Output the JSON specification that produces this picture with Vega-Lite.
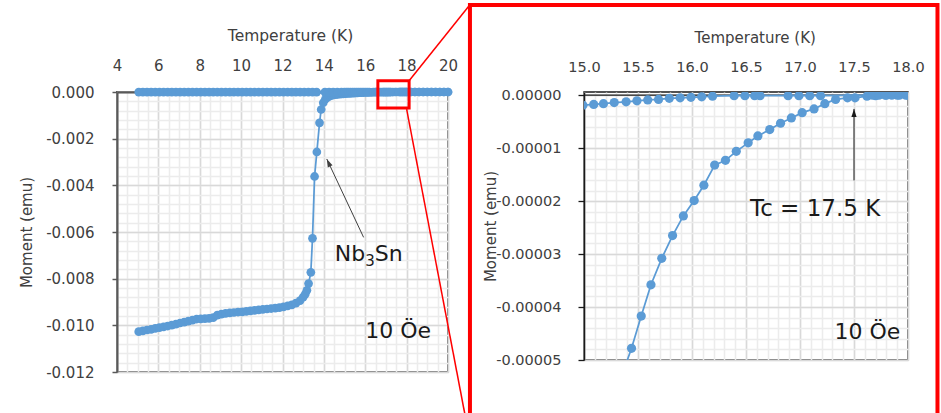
{
  "$schema": "https://vega.github.io/schema/vega-lite/v6.json",
  "padding": {"left": 18, "top": 2, "right": 0, "bottom": 0},
  "background": "white",
  "config": {
    "font": "DejaVu Sans",
    "axis": {"labelFont": "DejaVu Sans", "titleFont": "DejaVu Sans", "titleFontWeight": "normal", "labelFlush": false, "labelOverlap": false, "labelBound": false}
  },
  "datasets": {
    "nb": [
      {"s":"Z","t":5.05,"m":-0.01027},{"s":"Z","t":5.25,"m":-0.01024},{"s":"Z","t":5.45,"m":-0.0102},{"s":"Z","t":5.65,"m":-0.01017},{"s":"Z","t":5.85,"m":-0.01013},
      {"s":"Z","t":6.05,"m":-0.0101},{"s":"Z","t":6.25,"m":-0.01007},{"s":"Z","t":6.45,"m":-0.01003},{"s":"Z","t":6.65,"m":-0.00999},{"s":"Z","t":6.85,"m":-0.00995},
      {"s":"Z","t":7.05,"m":-0.0099},{"s":"Z","t":7.25,"m":-0.00986},{"s":"Z","t":7.45,"m":-0.00982},{"s":"Z","t":7.65,"m":-0.00978},{"s":"Z","t":7.85,"m":-0.00973},
      {"s":"Z","t":8.05,"m":-0.00972},{"s":"Z","t":8.25,"m":-0.00971},{"s":"Z","t":8.45,"m":-0.0097},{"s":"Z","t":8.65,"m":-0.00967},{"s":"Z","t":8.85,"m":-0.00956},
      {"s":"Z","t":9.05,"m":-0.00952},{"s":"Z","t":9.25,"m":-0.00949},{"s":"Z","t":9.45,"m":-0.00947},{"s":"Z","t":9.65,"m":-0.00945},{"s":"Z","t":9.85,"m":-0.00943},
      {"s":"Z","t":10.05,"m":-0.00942},{"s":"Z","t":10.25,"m":-0.0094},{"s":"Z","t":10.45,"m":-0.00938},{"s":"Z","t":10.65,"m":-0.00936},{"s":"Z","t":10.85,"m":-0.00934},
      {"s":"Z","t":11.05,"m":-0.00932},{"s":"Z","t":11.25,"m":-0.0093},{"s":"Z","t":11.45,"m":-0.00928},{"s":"Z","t":11.65,"m":-0.00926},{"s":"Z","t":11.85,"m":-0.00924},
      {"s":"Z","t":12.05,"m":-0.00921},{"s":"Z","t":12.25,"m":-0.00917},{"s":"Z","t":12.45,"m":-0.00912},{"s":"Z","t":12.65,"m":-0.00905},{"s":"Z","t":12.85,"m":-0.00894},
      {"s":"Z","t":13.0,"m":-0.00879},{"s":"Z","t":13.1,"m":-0.00866},{"s":"Z","t":13.18,"m":-0.0085},{"s":"Z","t":13.26,"m":-0.00821},{"s":"Z","t":13.37,"m":-0.00773},
      {"s":"Z","t":13.45,"m":-0.00627},{"s":"Z","t":13.55,"m":-0.00362},{"s":"Z","t":13.66,"m":-0.00257},{"s":"Z","t":13.79,"m":-0.00132},{"s":"Z","t":13.87,"m":-0.00075},
      {"s":"Z","t":13.97,"m":-0.00046},{"s":"Z","t":14.07,"m":-0.00031},{"s":"Z","t":14.17,"m":-0.00023},{"s":"Z","t":14.27,"m":-0.000175},{"s":"Z","t":14.37,"m":-0.000145},
      {"s":"Z","t":14.47,"m":-0.000125},{"s":"Z","t":14.57,"m":-0.00011},{"s":"Z","t":14.67,"m":-0.000098},{"s":"Z","t":14.77,"m":-0.000089},{"s":"Z","t":14.87,"m":-0.000081},
      {"s":"Z","t":14.95,"m":-0.000076},{"s":"Z","t":15.05,"m":-0.00007},{"s":"Z","t":15.15,"m":-0.0000645},{"s":"Z","t":15.25,"m":-0.000059},{"s":"Z","t":15.34,"m":-0.0000535},
      {"s":"Z","t":15.44,"m":-0.0000478},{"s":"Z","t":15.53,"m":-0.0000417},{"s":"Z","t":15.62,"m":-0.0000358},{"s":"Z","t":15.72,"m":-0.0000308},{"s":"Z","t":15.82,"m":-0.0000265},
      {"s":"Z","t":15.92,"m":-0.0000228},{"s":"Z","t":16.02,"m":-0.0000199},{"s":"Z","t":16.11,"m":-0.000017},{"s":"Z","t":16.21,"m":-0.0000132},{"s":"Z","t":16.31,"m":-0.0000123},
      {"s":"Z","t":16.41,"m":-0.0000106},{"s":"Z","t":16.52,"m":-0.000009},{"s":"Z","t":16.61,"m":-0.0000077},{"s":"Z","t":16.72,"m":-0.0000065},{"s":"Z","t":16.82,"m":-0.0000053},
      {"s":"Z","t":16.92,"m":-0.0000043},{"s":"Z","t":17.02,"m":-0.0000033},{"s":"Z","t":17.13,"m":-0.0000026},{"s":"Z","t":17.23,"m":-0.0000016},{"s":"Z","t":17.33,"m":-0.0000008},
      {"s":"Z","t":17.44,"m":-0.0000005},{"s":"Z","t":17.51,"m":-0.0000005},{"s":"Z","t":17.62,"m":-0.0000002},{"s":"Z","t":17.7,"m":-0.0000001},{"s":"Z","t":17.8,"m":0},
      {"s":"Z","t":17.9,"m":0},{"s":"Z","t":18.0,"m":0},{"s":"Z","t":18.2,"m":0},{"s":"Z","t":18.4,"m":0},{"s":"Z","t":18.6,"m":0},
      {"s":"Z","t":18.8,"m":0},{"s":"Z","t":19.0,"m":0},{"s":"Z","t":19.2,"m":0},{"s":"Z","t":19.4,"m":0},{"s":"Z","t":19.6,"m":0},
      {"s":"Z","t":19.8,"m":0},{"s":"Z","t":20.0,"m":0},
      {"s":"F","t":5.05,"m":-0.000002},{"s":"F","t":5.25,"m":-0.000002},{"s":"F","t":5.45,"m":-0.000002},{"s":"F","t":5.65,"m":-0.000002},{"s":"F","t":5.85,"m":-0.000002},
      {"s":"F","t":6.05,"m":-0.000002},{"s":"F","t":6.25,"m":-0.000002},{"s":"F","t":6.45,"m":-0.000002},{"s":"F","t":6.65,"m":-0.000002},{"s":"F","t":6.85,"m":-0.000002},
      {"s":"F","t":7.05,"m":-0.000002},{"s":"F","t":7.25,"m":-0.000002},{"s":"F","t":7.45,"m":-0.000002},{"s":"F","t":7.65,"m":-0.000002},{"s":"F","t":7.85,"m":-0.000002},
      {"s":"F","t":8.05,"m":-0.000002},{"s":"F","t":8.25,"m":-0.000002},{"s":"F","t":8.45,"m":-0.000002},{"s":"F","t":8.65,"m":-0.000002},{"s":"F","t":8.85,"m":-0.000002},
      {"s":"F","t":9.05,"m":-0.000002},{"s":"F","t":9.25,"m":-0.000002},{"s":"F","t":9.45,"m":-0.000002},{"s":"F","t":9.65,"m":-0.000002},{"s":"F","t":9.85,"m":-0.000002},
      {"s":"F","t":10.05,"m":-0.000002},{"s":"F","t":10.25,"m":-0.000002},{"s":"F","t":10.45,"m":-0.000002},{"s":"F","t":10.65,"m":-0.000002},{"s":"F","t":10.85,"m":-0.000002},
      {"s":"F","t":11.05,"m":-0.000002},{"s":"F","t":11.25,"m":-0.000002},{"s":"F","t":11.45,"m":-0.000002},{"s":"F","t":11.65,"m":-0.000002},{"s":"F","t":11.85,"m":-0.000002},
      {"s":"F","t":12.05,"m":-0.000002},{"s":"F","t":12.25,"m":-0.000002},{"s":"F","t":12.45,"m":-0.000002},{"s":"F","t":12.65,"m":-0.000002},{"s":"F","t":12.85,"m":-0.000002},
      {"s":"F","t":13.05,"m":-0.000002},{"s":"F","t":13.25,"m":-0.000002},{"s":"F","t":13.45,"m":-0.000002},{"s":"F","t":13.65,"m":-0.000002},
      {"s":"F","t":14.05,"m":-0.000002},{"s":"F","t":14.25,"m":-0.000002},{"s":"F","t":14.45,"m":-0.000002},{"s":"F","t":14.65,"m":-0.000002},{"s":"F","t":14.85,"m":-0.000002},
      {"s":"F","t":14.99,"m":-0.0000019},{"s":"F","t":15.09,"m":-0.00000175},{"s":"F","t":15.18,"m":-0.0000016},{"s":"F","t":15.28,"m":-0.0000014},{"s":"F","t":15.39,"m":-0.00000125},
      {"s":"F","t":15.49,"m":-0.00000106},{"s":"F","t":15.59,"m":-0.0000009},{"s":"F","t":15.69,"m":-0.0000008},{"s":"F","t":15.79,"m":-0.0000006},{"s":"F","t":15.89,"m":-0.0000005},
      {"s":"F","t":15.99,"m":-0.0000004},{"s":"F","t":16.09,"m":-0.0000003},{"s":"F","t":16.19,"m":-0.0000002},{"s":"F","t":16.39,"m":-0.0000001},{"s":"F","t":16.49,"m":-0.0000001},
      {"s":"F","t":16.58,"m":-0.0000001},{"s":"F","t":16.63,"m":-0.0000001},{"s":"F","t":16.89,"m":-0.0000001},{"s":"F","t":16.99,"m":-0.0000001},{"s":"F","t":17.09,"m":-0.0000001},
      {"s":"F","t":17.19,"m":-0.0000001},{"s":"F","t":17.67,"m":0},{"s":"F","t":17.73,"m":0},{"s":"F","t":17.79,"m":0},{"s":"F","t":17.85,"m":0},
      {"s":"F","t":17.92,"m":0},{"s":"F","t":17.98,"m":0},{"s":"F","t":18.03,"m":0},{"s":"F","t":18.2,"m":0},{"s":"F","t":18.4,"m":0},
      {"s":"F","t":18.6,"m":0},{"s":"F","t":18.8,"m":0},{"s":"F","t":19.0,"m":0},{"s":"F","t":19.2,"m":0},{"s":"F","t":19.4,"m":0},
      {"s":"F","t":19.6,"m":0},{"s":"F","t":19.8,"m":0},{"s":"F","t":20.0,"m":0}
    ]
  },
  "bounds": "flush",
  "spacing": 136,
  "hconcat": [
    {
      "width": 331,
      "height": 280,
      "view": {"stroke": "#595959", "strokeWidth": 2},
      "layer": [
        {
          "data": {"values": [{}]},
          "mark": {"type": "point", "opacity": 0},
          "encoding": {
            "x": {"datum": 12, "type": "quantitative", "scale": {"domain": [4, 20], "nice": false, "zero": false},
              "axis": {"orient": "top", "values": [4,4.5,5,5.5,6,6.5,7,7.5,8,8.5,9,9.5,10,10.5,11,11.5,12,12.5,13,13.5,14,14.5,15,15.5,16,16.5,17,17.5,18,18.5,19,19.5,20], "grid": true, "gridColor": "#ececec", "gridWidth": 1.5, "labels": false, "ticks": false, "domain": false, "title": null}},
            "y": {"datum": -0.006, "type": "quantitative", "scale": {"domain": [-0.012, 0], "nice": false, "zero": false},
              "axis": {"orient": "left", "values": [0,-0.0004,-0.0008,-0.0012,-0.0016,-0.002,-0.0024,-0.0028,-0.0032,-0.0036,-0.004,-0.0044,-0.0048,-0.0052,-0.0056,-0.006,-0.0064,-0.0068,-0.0072,-0.0076,-0.008,-0.0084,-0.0088,-0.0092,-0.0096,-0.01,-0.0104,-0.0108,-0.0112,-0.0116,-0.012], "grid": true, "gridColor": "#ececec", "gridWidth": 1.5, "labels": false, "ticks": false, "domain": false, "title": null}}
          }
        },
        {
          "data": {"name": "nb"},
          "mark": {"type": "line", "color": "#5B9BD5", "strokeWidth": 1.75},
          "encoding": {
            "x": {"field": "t", "type": "quantitative", "scale": {"domain": [4, 20], "nice": false, "zero": false},
              "axis": {"orient": "top", "values": [4,6,8,10,12,14,16,18,20], "grid": true, "gridColor": "#d9d9d9", "gridWidth": 1.5, "ticks": false, "domain": true, "domainColor": "#595959", "domainWidth": 2, "labelFontSize": 15, "labelColor": "#404040", "labelPadding": 19, "title": "Temperature (K)", "titleFontSize": 15.5, "titleColor": "#404040", "titleX": 173, "titleY": -52, "titleAlign": "center", "titleBaseline": "alphabetic"}},
            "y": {"field": "m", "type": "quantitative", "scale": {"domain": [-0.012, 0], "nice": false, "zero": false},
              "axis": {"orient": "left", "values": [0,-0.002,-0.004,-0.006,-0.008,-0.01,-0.012], "grid": true, "gridColor": "#d9d9d9", "gridWidth": 1.5, "ticks": true, "tickSize": 5, "tickColor": "#595959", "tickWidth": 1.5, "domain": true, "domainColor": "#595959", "domainWidth": 2, "labelFontSize": 15, "labelColor": "#404040", "labelPadding": 18, "labelExpr": "replace(format(datum.value, '.3f'), '\u2212', '-')", "title": "Moment (emu)", "titleFontSize": 15, "titleColor": "#404040", "titleAngle": 270, "titleX": -86, "titleY": 140, "titleAlign": "center", "titleBaseline": "alphabetic"}},
            "detail": {"field": "s", "type": "nominal"}
          }
        },
        {
          "data": {"name": "nb"},
          "mark": {"type": "point", "filled": true, "opacity": 1, "size": 76, "color": "#5B9BD5"},
          "encoding": {
            "x": {"field": "t", "type": "quantitative", "axis": null},
            "y": {"field": "m", "type": "quantitative", "axis": null}
          }
        },
        {
          "data": {"values": [{"t": 15.92, "m": -0.00623, "t2": 14.14, "m2": -0.00287}]},
          "mark": {"type": "rule", "color": "#404040", "strokeWidth": 1},
          "encoding": {
            "x": {"field": "t", "type": "quantitative", "axis": null},
            "y": {"field": "m", "type": "quantitative", "axis": null},
            "x2": {"field": "t2"},
            "y2": {"field": "m2"}
          }
        },
        {
          "data": {"values": [{"t": 14.14, "m": -0.00287}]},
          "mark": {"type": "point", "shape": "M0,0L0.55,1.7L-0.55,1.7Z", "size": 90, "filled": true, "opacity": 1, "color": "#404040", "angle": 335},
          "encoding": {
            "x": {"field": "t", "type": "quantitative", "axis": null},
            "y": {"field": "m", "type": "quantitative", "axis": null}
          }
        },
        {
          "data": {"values": [{"t": 14.53, "m": -0.00723, "label": "Nb"}, {"t": 16.455, "m": -0.00723, "label": "Sn"}, {"t": 16.0, "m": -0.010556, "label": "10 Öe"}]},
          "mark": {"type": "text", "align": "left", "baseline": "alphabetic", "fontSize": 22, "font": "DejaVu Sans", "color": "#1a1a1a"},
          "encoding": {
            "x": {"field": "t", "type": "quantitative", "axis": null},
            "y": {"field": "m", "type": "quantitative", "axis": null},
            "text": {"field": "label"}
          }
        },
        {
          "data": {"values": [{"t": 16.0, "m": -0.007444, "label": "3"}]},
          "mark": {"type": "text", "align": "left", "baseline": "alphabetic", "fontSize": 15, "font": "DejaVu Sans", "color": "#1a1a1a"},
          "encoding": {
            "x": {"field": "t", "type": "quantitative", "axis": null},
            "y": {"field": "m", "type": "quantitative", "axis": null},
            "text": {"field": "label"}
          }
        },
        {
          "data": {"values": [{"t": 16.61, "t2": 18.12, "m": 0.000484, "m2": -0.000686}]},
          "mark": {"type": "rect", "filled": false, "color": "#ff0000", "strokeWidth": 3},
          "encoding": {
            "x": {"field": "t", "type": "quantitative", "axis": null},
            "y": {"field": "m", "type": "quantitative", "axis": null},
            "x2": {"field": "t2"},
            "y2": {"field": "m2"}
          }
        },
        {
          "data": {"values": [{"t": 18.12, "m": 0.000484, "t2": 21.05, "m2": 0.003729}, {"t": 18.0, "m": -0.00073, "t2": 20.86, "m2": -0.014014}]},
          "mark": {"type": "rule", "color": "#ff0000", "strokeWidth": 1.5},
          "encoding": {
            "x": {"field": "t", "type": "quantitative", "axis": null},
            "y": {"field": "m", "type": "quantitative", "axis": null},
            "x2": {"field": "t2"},
            "y2": {"field": "m2"}
          }
        }
      ],
      "resolve": {"axis": {"x": "independent", "y": "independent"}}
    },
    {
      "width": 324,
      "height": 268,
      "view": {"stroke": "#1a1a1a", "strokeWidth": 1.5},
      "layer": [
        {
          "data": {"values": [{}]},
          "mark": {"type": "point", "opacity": 0},
          "encoding": {
            "x": {"datum": 16.5, "type": "quantitative", "scale": {"domain": [15, 18], "nice": false, "zero": false},
              "axis": {"orient": "top", "values": [15,15.1,15.2,15.3,15.4,15.5,15.6,15.7,15.8,15.9,16,16.1,16.2,16.3,16.4,16.5,16.6,16.7,16.8,16.9,17,17.1,17.2,17.3,17.4,17.5,17.6,17.7,17.8,17.9,18], "grid": true, "gridColor": "#ececec", "gridWidth": 1.5, "labels": false, "ticks": false, "domain": false, "title": null}},
            "y": {"datum": -0.00002, "type": "quantitative", "scale": {"domain": [-0.00005, 0.0000006], "nice": false, "zero": false},
              "axis": {"orient": "left", "values": [0,-0.000002,-0.000004,-0.000006,-0.000008,-0.00001,-0.000012,-0.000014,-0.000016,-0.000018,-0.00002,-0.000022,-0.000024,-0.000026,-0.000028,-0.00003,-0.000032,-0.000034,-0.000036,-0.000038,-0.00004,-0.000042,-0.000044,-0.000046,-0.000048,-0.00005], "grid": true, "gridColor": "#ececec", "gridWidth": 1.5, "labels": false, "ticks": false, "domain": false, "title": null}}
          }
        },
        {
          "data": {"values": [{}]},
          "mark": {"type": "rule", "color": "#1a1a1a", "strokeWidth": 1.3},
          "encoding": {
            "y": {"datum": 0, "type": "quantitative", "axis": null}
          }
        },
        {
          "data": {"name": "nb"},
          "transform": [{"filter": "datum.t >= 14.9 && datum.t <= 18.1"}],
          "mark": {"type": "line", "color": "#5B9BD5", "strokeWidth": 1.75, "clip": true},
          "encoding": {
            "x": {"field": "t", "type": "quantitative", "scale": {"domain": [15, 18], "nice": false, "zero": false},
              "axis": {"orient": "top", "values": [15,15.5,16,16.5,17,17.5,18], "format": ".1f", "grid": true, "gridColor": "#d9d9d9", "gridWidth": 1.5, "ticks": false, "domain": false, "labelFontSize": 14.5, "labelColor": "#404040", "labelPadding": 18, "title": "Temperature (K)", "titleFontSize": 15, "titleColor": "#404040", "titleX": 170.7, "titleY": -49.7, "titleAlign": "center", "titleBaseline": "alphabetic"}},
            "y": {"field": "m", "type": "quantitative", "scale": {"domain": [-0.00005, 0.0000006], "nice": false, "zero": false},
              "axis": {"orient": "left", "values": [0,-0.00001,-0.00002,-0.00003,-0.00004,-0.00005], "grid": true, "gridColor": "#d9d9d9", "gridWidth": 1.5, "ticks": true, "tickSize": 6, "tickColor": "#1a1a1a", "tickWidth": 1.3, "domain": true, "domainColor": "#1a1a1a", "domainWidth": 1.5, "labelFontSize": 14.5, "labelColor": "#404040", "labelPadding": 17, "labelExpr": "replace(format(datum.value, '.5f'), '\u2212', '-')", "title": "Moment (emu)", "titleFontSize": 15, "titleColor": "#404040", "titleAngle": 270, "titleX": -89, "titleY": 134, "titleAlign": "center", "titleBaseline": "alphabetic"}},
            "detail": {"field": "s", "type": "nominal"}
          }
        },
        {
          "data": {"name": "nb"},
          "transform": [{"filter": "datum.t >= 14.9 && datum.t <= 18.1"}],
          "mark": {"type": "point", "filled": true, "opacity": 1, "size": 85, "color": "#5B9BD5", "clip": true},
          "encoding": {
            "x": {"field": "t", "type": "quantitative", "axis": null},
            "y": {"field": "m", "type": "quantitative", "axis": null}
          }
        },
        {
          "data": {"values": [{"t": 17.5, "m": -0.0000161, "m2": -0.0000026}]},
          "mark": {"type": "rule", "color": "#1a1a1a", "strokeWidth": 1},
          "encoding": {
            "x": {"field": "t", "type": "quantitative", "axis": null},
            "y": {"field": "m", "type": "quantitative", "axis": null},
            "y2": {"field": "m2"}
          }
        },
        {
          "data": {"values": [{"t": 17.5, "m": -0.0000026}]},
          "mark": {"type": "point", "shape": "M0,0L0.55,1.7L-0.55,1.7Z", "size": 90, "filled": true, "opacity": 1, "color": "#1a1a1a", "angle": 0},
          "encoding": {
            "x": {"field": "t", "type": "quantitative", "axis": null},
            "y": {"field": "m", "type": "quantitative", "axis": null}
          }
        },
        {
          "data": {"values": [{"t": 16.537, "m": -0.0000228, "label": "Tc = 17.5 K"}]},
          "mark": {"type": "text", "align": "left", "baseline": "alphabetic", "fontSize": 23, "font": "DejaVu Sans", "color": "#1a1a1a"},
          "encoding": {
            "x": {"field": "t", "type": "quantitative", "axis": null},
            "y": {"field": "m", "type": "quantitative", "axis": null},
            "text": {"field": "label"}
          }
        },
        {
          "data": {"values": [{"t": 17.32, "m": -0.000046, "label": "10 Öe"}]},
          "mark": {"type": "text", "align": "left", "baseline": "alphabetic", "fontSize": 22, "font": "DejaVu Sans", "color": "#1a1a1a"},
          "encoding": {
            "x": {"field": "t", "type": "quantitative", "axis": null},
            "y": {"field": "m", "type": "quantitative", "axis": null},
            "text": {"field": "label"}
          }
        },
        {
          "data": {"values": [{"t": 13.944, "t2": 18.273, "m": 0.00001703, "m2": -0.000063}]},
          "mark": {"type": "rect", "filled": false, "color": "#ff0000", "strokeWidth": 4},
          "encoding": {
            "x": {"field": "t", "type": "quantitative", "axis": null},
            "y": {"field": "m", "type": "quantitative", "axis": null},
            "x2": {"field": "t2"},
            "y2": {"field": "m2"}
          }
        }
      ],
      "resolve": {"axis": {"x": "independent", "y": "independent"}}
    }
  ]
}
